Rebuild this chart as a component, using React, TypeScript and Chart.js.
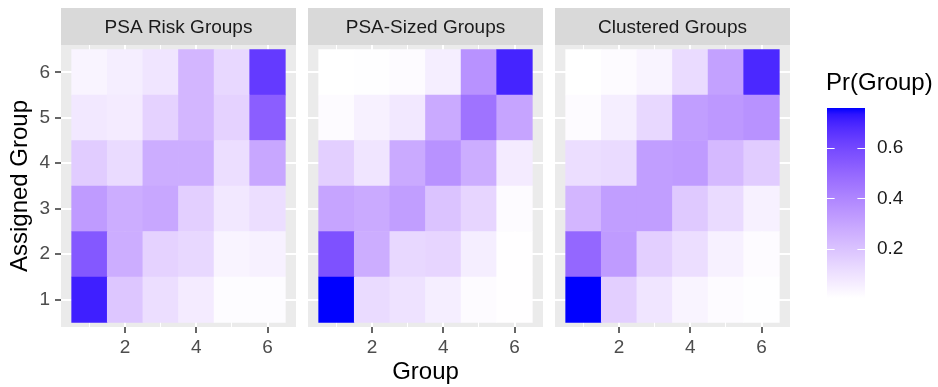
import React, { useEffect, useRef } from "react";
import { Chart, registerables } from "chart.js";
Chart.register(...registerables);

// ---- data ----
const groups = [1, 2, 3, 4, 5, 6];
const xTickLabels = [2, 4, 6];
const yTickLabels = [1, 2, 3, 4, 5, 6];
const panelTitles = ["PSA Risk Groups", "PSA-Sized Groups", "Clustered Groups"];
const legendTicks = [0.2, 0.4, 0.6];
const legendTitle = "Pr(Group)";
const xTitle = "Group";
const yTitle = "Assigned Group";

// rows: Assigned Group 1..6 ; columns: Group 1..6
const psaRisk = [
  [0.71, 0.19, 0.11, 0.07, 0.015, 0.015],
  [0.55, 0.27, 0.15, 0.13, 0.04, 0.05],
  [0.33, 0.27, 0.29, 0.16, 0.08, 0.11],
  [0.17, 0.12, 0.27, 0.27, 0.11, 0.29],
  [0.08, 0.07, 0.15, 0.24, 0.15, 0.53],
  [0.04, 0.06, 0.09, 0.24, 0.13, 0.64],
];
const psaSized = [
  [0.757, 0.12, 0.1, 0.06, 0.02, 0.008],
  [0.57, 0.27, 0.13, 0.14, 0.06, 0.008],
  [0.3, 0.28, 0.32, 0.2, 0.14, 0.02],
  [0.16, 0.09, 0.28, 0.36, 0.27, 0.07],
  [0.02, 0.05, 0.08, 0.28, 0.46, 0.3],
  [0.006, 0.01, 0.02, 0.06, 0.36, 0.7],
];
const clustered = [
  [0.757, 0.16, 0.09, 0.04, 0.02, 0.01],
  [0.5, 0.33, 0.16, 0.11, 0.05, 0.02],
  [0.24, 0.32, 0.32, 0.18, 0.12, 0.05],
  [0.11, 0.12, 0.32, 0.33, 0.23, 0.17],
  [0.02, 0.06, 0.13, 0.32, 0.34, 0.36],
  [0.006, 0.02, 0.04, 0.12, 0.31, 0.69],
];
const panels = [psaRisk, psaSized, clustered];

const allValues = panels.flat(2);
const vMin = Math.min(...allValues);
const vMax = Math.max(...allValues);

// ---- colour scale (white -> blue in CIELAB, like ggplot) ----
function srgbToLin(c: number) {
  c /= 255;
  return c <= 0.04045 ? c / 12.92 : Math.pow((c + 0.055) / 1.055, 2.4);
}
function rgbToLab(r: number, g: number, b: number) {
  const R = srgbToLin(r), G = srgbToLin(g), B = srgbToLin(b);
  const X = (0.4124564 * R + 0.3575761 * G + 0.1804375 * B) / 0.95047;
  const Y = 0.2126729 * R + 0.7151522 * G + 0.072175 * B;
  const Z = (0.0193339 * R + 0.119192 * G + 0.9503041 * B) / 1.08883;
  const f = (t: number) => (t > 216 / 24389 ? Math.cbrt(t) : (24389 / 27 * t + 16) / 116);
  const fx = f(X), fy = f(Y), fz = f(Z);
  return [116 * fy - 16, 500 * (fx - fy), 200 * (fy - fz)];
}
function labToRgb(L: number, a: number, b: number) {
  const fy = (L + 16) / 116;
  const fx = fy + a / 500;
  const fz = fy - b / 200;
  const inv = (t: number) => (t > 6 / 29 ? t * t * t : 3 * (6 / 29) * (6 / 29) * (t - 4 / 29));
  const X = 0.95047 * inv(fx), Y = inv(fy), Z = 1.08883 * inv(fz);
  const lin = [
    3.2404542 * X - 1.5371385 * Y - 0.4985314 * Z,
    -0.969266 * X + 1.8760108 * Y + 0.041556 * Z,
    0.0556434 * X - 0.2040259 * Y + 1.0572252 * Z,
  ];
  return lin.map((c) => {
    const v = c <= 0.0031308 ? 12.92 * c : 1.055 * Math.pow(c, 1 / 2.4) - 0.055;
    return Math.round(Math.max(0, Math.min(1, v)) * 255);
  });
}
const labLow = rgbToLab(255, 255, 255);
const labHigh = rgbToLab(0, 0, 255);
function colorAtT(t: number) {
  const tt = Math.max(0, Math.min(1, t));
  const [r, g, b] = labToRgb(
    labLow[0] + (labHigh[0] - labLow[0]) * tt,
    labLow[1] + (labHigh[1] - labLow[1]) * tt,
    labLow[2] + (labHigh[2] - labLow[2]) * tt
  );
  return `rgb(${r},${g},${b})`;
}
function colorFor(v: number) {
  return colorAtT((v - vMin) / (vMax - vMin));
}

// ---- layout constants ----
const W = 938;
const H = 387;
const STRIP_TOP = 8;
const PANEL_TOP = 45;
const PANEL_BOTTOM = 327;
const FONT = "'Liberation Sans', Arial, Helvetica, sans-serif";
const panelX = [
  { left: 61, right: 296 },
  { left: 308, right: 543 },
  { left: 555, right: 790 },
];

const stripPlugin = {
  id: "stripBg",
  beforeDraw(chart: any, _args: any, opts: any) {
    const { ctx, chartArea } = chart;
    ctx.save();
    ctx.fillStyle = "#EBEBEB";
    ctx.fillRect(chartArea.left, chartArea.top, chartArea.right - chartArea.left, chartArea.bottom - chartArea.top);
    ctx.fillStyle = "#D9D9D9";
    ctx.fillRect(chartArea.left, STRIP_TOP, chartArea.right - chartArea.left, chartArea.top - STRIP_TOP);
    ctx.fillStyle = "#1A1A1A";
    ctx.font = `19px ${FONT}`;
    ctx.textAlign = "center";
    ctx.textBaseline = "alphabetic";
    ctx.fillText(opts.title, (chartArea.left + chartArea.right) / 2, (STRIP_TOP + chartArea.top) / 2 + 6.8);
    ctx.restore();
  },
};

function Panel({ idx }: { idx: number }) {
  const ref = useRef<HTMLCanvasElement>(null);
  const showY = idx === 0;
  const canvasLeft = showY ? 0 : panelX[idx].left;
  const canvasWidth = panelX[idx].right - canvasLeft;
  useEffect(() => {
    const values = panels[idx];
    const datasets = groups.map((yv, ri) => ({
      data: groups.map((xv) => ({ x: xv, y: [yv - 0.5, yv + 0.5] })),
      backgroundColor: groups.map((_, ci) => colorFor(values[ri][ci])),
      borderWidth: 0,
      grouped: false,
      barPercentage: 1,
      categoryPercentage: 1,
    }));
    const chart = new Chart(ref.current!, {
      type: "bar",
      data: { datasets } as any,
      options: {
        responsive: false,
        animation: false,
        devicePixelRatio: 1,
        layout: { padding: { top: PANEL_TOP, left: 0, right: 0, bottom: 0 } },
        plugins: {
          legend: { display: false },
          tooltip: { enabled: false },
          stripBg: { title: panelTitles[idx] },
        } as any,
        scales: {
          x: {
            type: "linear",
            min: 0.2,
            max: 6.8,
            offset: false,
            afterBuildTicks: (s: any) => {
              s.ticks = groups.map((v) => ({ value: v }));
            },
            afterFit: (s: any) => {
              s.height = H - PANEL_BOTTOM;
            },
            ticks: {
              autoSkip: false,
              maxRotation: 0,
              padding: 3,
              color: "#4D4D4D",
              font: { family: FONT, size: 19 },
              callback: (v: any) => (xTickLabels.includes(Number(v)) ? String(v) : ""),
            },
            grid: {
              offset: false,
              color: "#FFFFFF",
              lineWidth: (c: any) => (c.tick && xTickLabels.includes(c.tick.value) ? 2 : 1),
              tickColor: (c: any) => (c.tick && xTickLabels.includes(c.tick.value) ? "#333333" : "rgba(0,0,0,0)"),
              tickLength: 6,
              tickWidth: 1.5,
            },
            border: { display: false },
          },
          y: {
            type: "linear",
            min: 0.4,
            max: 6.6,
            offset: false,
            afterBuildTicks: (s: any) => {
              s.ticks = yTickLabels.map((v) => ({ value: v }));
            },
            afterFit: (s: any) => {
              s.width = showY ? panelX[0].left : 0;
            },
            ticks: {
              display: showY,
              padding: 5,
              color: "#4D4D4D",
              font: { family: FONT, size: 19 },
              callback: (v: any) => String(v),
            },
            grid: {
              offset: false,
              color: "#FFFFFF",
              lineWidth: 2,
              drawTicks: showY,
              tickColor: "#333333",
              tickLength: 6,
              tickWidth: 1.5,
            },
            border: { display: false },
          },
        },
      } as any,
      plugins: [stripPlugin],
    });
    return () => chart.destroy();
  }, []);
  return (
    <canvas
      ref={ref}
      width={canvasWidth}
      height={H}
      style={{ position: "absolute", left: canvasLeft, top: 0, width: canvasWidth, height: H }}
    />
  );
}

const barTicksPlugin = {
  id: "barTicks",
  afterDatasetsDraw(chart: any) {
    const { ctx, chartArea } = chart;
    const ys = chart.scales.y;
    const len = (chartArea.right - chartArea.left) / 5;
    ctx.save();
    ctx.strokeStyle = "#FFFFFF";
    ctx.lineWidth = 1.2;
    legendTicks.forEach((v) => {
      const y = Math.round(ys.getPixelForValue(v)) + 0.5;
      ctx.beginPath();
      ctx.moveTo(chartArea.left, y);
      ctx.lineTo(chartArea.left + len, y);
      ctx.moveTo(chartArea.right - len, y);
      ctx.lineTo(chartArea.right, y);
      ctx.stroke();
    });
    ctx.restore();
  },
};

const LEG_LEFT = 827;
const LEG_RIGHT = 865;
const LEG_TOP = 108;
const LEG_BOTTOM = 298;

function LegendBar() {
  const ref = useRef<HTMLCanvasElement>(null);
  const cw = W - LEG_LEFT;
  useEffect(() => {
    const chart = new Chart(ref.current!, {
      type: "bar",
      data: {
        labels: [""],
        datasets: [
          {
            data: [[vMin, vMax]],
            borderWidth: 0,
            barPercentage: 1,
            categoryPercentage: 1,
            backgroundColor: (c: any) => {
              const area = c.chart.chartArea;
              if (!area) return "#8888FF";
              const g = c.chart.ctx.createLinearGradient(0, area.bottom, 0, area.top);
              const n = 30;
              for (let i = 0; i <= n; i++) g.addColorStop(i / n, colorAtT(i / n));
              return g;
            },
          },
        ],
      } as any,
      options: {
        responsive: false,
        animation: false,
        devicePixelRatio: 1,
        layout: { padding: { top: LEG_TOP, bottom: H - LEG_BOTTOM, left: 0, right: 0 } },
        plugins: { legend: { display: false }, tooltip: { enabled: false } },
        scales: {
          x: { display: false },
          y: {
            position: "right",
            min: vMin,
            max: vMax,
            afterBuildTicks: (s: any) => {
              s.ticks = legendTicks.map((v) => ({ value: v }));
            },
            afterFit: (s: any) => {
              s.width = cw - (LEG_RIGHT - LEG_LEFT);
            },
            ticks: {
              padding: 12,
              color: "#1A1A1A",
              font: { family: FONT, size: 19 },
              callback: (v: any) => Number(v).toFixed(1),
            },
            grid: { display: false, drawTicks: false },
            border: { display: false },
          },
        },
      } as any,
      plugins: [barTicksPlugin],
    });
    return () => chart.destroy();
  }, []);
  return (
    <canvas
      ref={ref}
      width={cw}
      height={H}
      style={{ position: "absolute", left: LEG_LEFT, top: 0, width: cw, height: H }}
    />
  );
}

export default function App() {
  useEffect(() => {
    document.body.style.margin = "0";
  }, []);
  const textStyle: React.CSSProperties = {
    position: "absolute",
    fontFamily: FONT,
    fontSize: 24,
    lineHeight: "24px",
    color: "#000",
    whiteSpace: "nowrap",
  };
  return (
    <div style={{ position: "relative", width: W, height: H, background: "#FFFFFF", overflow: "hidden" }}>
      <Panel idx={0} />
      <Panel idx={1} />
      <Panel idx={2} />
      <LegendBar />
      <div style={{ ...textStyle, left: 0, width: 851, top: 359, textAlign: "center" }}>{xTitle}</div>
      <div
        style={{
          ...textStyle,
          left: 19 - 100,
          top: 186 - 12,
          width: 200,
          height: 24,
          textAlign: "center",
          transform: "rotate(-90deg)",
          transformOrigin: "100px 12px",
        }}
      >
        {yTitle}
      </div>
      <div style={{ ...textStyle, left: 826, top: 70 }}>{legendTitle}</div>
    </div>
  );
}
